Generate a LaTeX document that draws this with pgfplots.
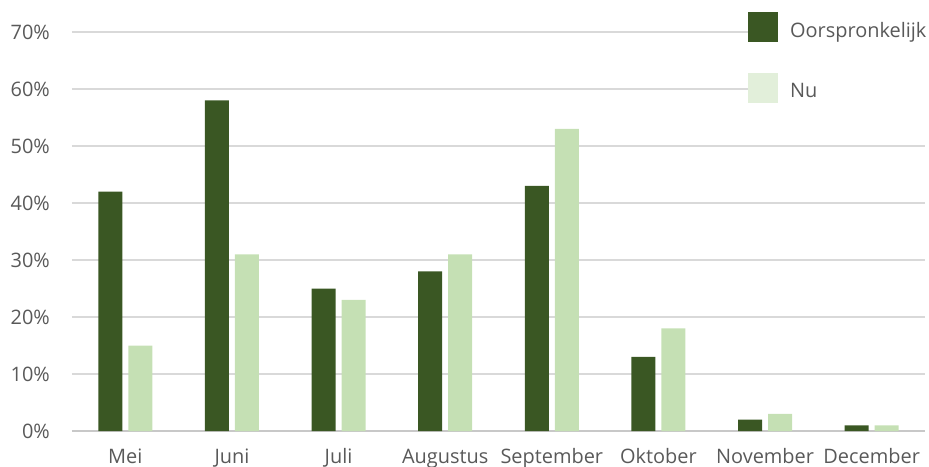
\documentclass[border=0pt]{standalone}
\usepackage{pgfplots}
\pgfplotsset{compat=1.18}
\usepackage{fontspec}
\setmainfont{Open Sans}
\definecolor{darkg}{HTML}{3A5723}
\definecolor{lightg}{HTML}{C5E0B4}
\definecolor{legl}{HTML}{E2EFDA}
\definecolor{txt}{HTML}{595959}
\definecolor{gridc}{HTML}{D9D9D9}
\definecolor{basec}{HTML}{C8C8C8}
\begin{document}
\begin{tikzpicture}
\begin{axis}[
  scale only axis, width=853bp, height=399bp,
  xmin=-0.5, xmax=7.5, ymin=0, ymax=70,
  clip=false,
  ybar=6bp, bar width=24bp,
  axis line style={draw=none},
  major tick length=0pt,
  xtick={0,...,7},
  xticklabels={Mei,Juni,Juli,Augustus,September,Oktober,November,December},
  ytick={10,20,...,70},
  extra y ticks={0},
  extra y tick style={grid style={draw=basec, line width=2bp}},
  yticklabel={\pgfmathprintnumber{\tick}\%},
  /pgf/number format/assume math mode=true,
  ymajorgrids, grid style={draw=gridc, line width=1.5bp},
  tick label style={font=\fontsize{20}{20}\selectfont, text=txt, inner sep=0pt},
  xticklabel style={anchor=base, yshift=-32bp},
  yticklabel style={anchor=east, xshift=-22bp},
  legend style={draw=none, fill=white, inner sep=0pt, anchor=north west,
    at={(rel axis cs:0.7925,1.05)}, font=\fontsize{20}{20}\selectfont, text=txt,
    row sep=31bp, column sep=0pt, /tikz/every odd column/.append style={column sep=10bp},
    /tikz/every even column/.append style={yshift=-3bp}},
  legend cell align=left,
]
\fill[white] (rel axis cs:0.7925,1.05) rectangle (rel axis cs:1.01,0.815);
\addplot[fill=darkg, draw=none,
  legend image code/.code={\fill[darkg] (0bp,-15bp) rectangle (30bp,15bp);}]
  coordinates {(0,42) (1,58) (2,25) (3,28) (4,43) (5,13) (6,2) (7,1)};
\addplot[fill=lightg, draw=none,
  legend image code/.code={\fill[legl] (0bp,-15bp) rectangle (30bp,15bp);}]
  coordinates {(0,15) (1,31) (2,23) (3,31) (4,53) (5,18) (6,3) (7,1)};
\legend{Oorspronkelijk,Nu}
\end{axis}
\pgfresetboundingbox
\path[use as bounding box] (current axis.south west) ++(-72bp,-36bp) rectangle ++(929bp,467bp);
\end{tikzpicture}
\end{document}
